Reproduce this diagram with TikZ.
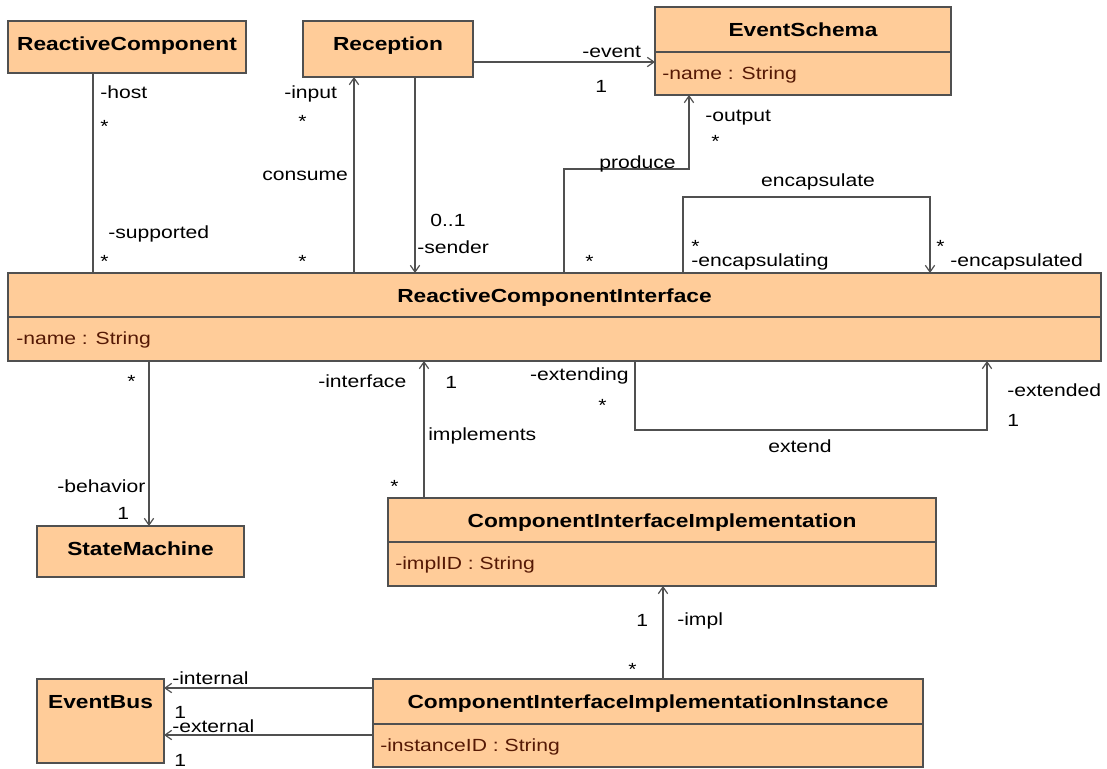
\documentclass[tikz,border=0pt]{standalone}
\usepackage{fontspec}
\setmainfont{Liberation Sans}[FakeStretch=1.2]
\usetikzlibrary{arrows.meta}
\definecolor{peach}{RGB}{255,204,153}
\definecolor{linec}{RGB}{80,80,80}
\definecolor{attrc}{RGB}{85,25,5}
\tikzset{
  box/.style={draw=linec, fill=peach, line width=1.1pt, anchor=north west, inner sep=0pt, outer sep=0pt},
  sepline/.style={draw=linec, line width=1.1pt},
  title/.style={anchor=base, inner sep=0pt, font=\fontsize{14.2pt}{16pt}\selectfont\bfseries},
  attr/.style={anchor=base west, inner sep=0pt, text=attrc, font=\fontsize{13.2pt}{15pt}\selectfont},
  lbl/.style={anchor=base west, inner sep=0pt, font=\fontsize{13.2pt}{15pt}\selectfont},
  clbl/.style={anchor=base, inner sep=0pt, font=\fontsize{13.2pt}{15pt}\selectfont},
  assoc/.style={draw=linec, line width=1.1pt},
  nav/.style={assoc, -{Straight Barb[length=5pt,width=7pt,line width=0.9pt]}},
}
% class box: name, left, top, width, height (in picture units)
\newcommand\umlbox[5]{\node[box, minimum width=#4*0.75pt, minimum height=#5*0.75pt] (#1) at (#2,#3) {};}
\begin{document}
\begin{tikzpicture}[x=0.75pt, y=-0.75pt]
\useasboundingbox (0,0) rectangle (1107,768);

% classes
\umlbox{rc}{8}{21}{238}{52}
\umlbox{rec}{303}{21}{170}{56}
\umlbox{es}{655}{7}{296}{88}
\umlbox{rci}{8}{273}{1093}{88}
\umlbox{sm}{37}{526}{207}{51}
\umlbox{cii}{388}{498}{548}{88}
\umlbox{ciii}{373}{679}{550}{88}
\umlbox{eb}{37}{679}{127}{84}

% compartment separators
\draw[sepline] (es.west |- 0,52) -- (es.east |- 0,52);
\draw[sepline] (rci.west |- 0,317) -- (rci.east |- 0,317);
\draw[sepline] (cii.west |- 0,542) -- (cii.east |- 0,542);
\draw[sepline] (ciii.west |- 0,724) -- (ciii.east |- 0,724);

% class names
\node[title] (rcT) at ([yshift=-21.75pt]rc.north) {ReactiveComponent};
\node[title] (recT) at ([yshift=-21.75pt]rec.north) {Reception};
\node[title] (esT) at ([yshift=-21.75pt]es.north) {EventSchema};
\node[title] (rciT) at ([yshift=-21.75pt]rci.north) {ReactiveComponentInterface};
\node[title] (smT) at ([yshift=-21.75pt]sm.north) {StateMachine};
\node[title] (ciiT) at ([yshift=-21.75pt]cii.north) {ComponentInterfaceImplementation};
\node[title] (ciiiT) at ([yshift=-21.75pt]ciii.north) {ComponentInterfaceImplementationInstance};
\node[title] (ebT) at ([yshift=-21.75pt]eb.north) {EventBus};

% attributes
\node[attr] (esA) at (662,79) {-name : String};
\node[attr] (rciA) at (16,344) {-name : String};
\node[attr] (ciiA) at (395,569) {-implID : String};
\node[attr] (ciiiA) at (380,751) {-instanceID : String};

% associations
\draw[assoc] (rc.south -| 93,0) -- (rci.north -| 93,0);
\draw[nav] (rci.north -| 354,0) -- (rec.south -| 354,0);
\draw[nav] (rec.south -| 415,0) -- (rci.north -| 415,0);
\draw[nav] (rec.east |- 0,62) -- (es.west |- 0,62);
\draw[nav] (rci.north -| 564,0) -- (564,169) -- (689,169) -- (es.south -| 689,0);
\draw[nav] (rci.north -| 683,0) -- (683,197) -- (930,197) -- (rci.north -| 930,0);
\draw[nav] (rci.south -| 149,0) -- (sm.north -| 149,0);
\draw[nav] (cii.north -| 424,0) -- (rci.south -| 424,0);
\draw[nav] (rci.south -| 635,0) -- (635,430) -- (987,430) -- (rci.south -| 987,0);
\draw[nav] (ciii.north -| 663,0) -- (cii.south -| 663,0);
\draw[nav] (ciii.west |- 0,688) -- (eb.east |- 0,688);
\draw[nav] (ciii.west |- 0,735) -- (eb.east |- 0,735);

% role names and multiplicities
\node[lbl] (l1) at (100,98) {-host};
\node[lbl] (l2) at (100,132) {*};
\node[lbl] (l3) at (108,238) {-supported};
\node[lbl] (l4) at (100,267) {*};
\node[lbl] (l5) at (284,98) {-input};
\node[lbl] (l6) at (298,127) {*};
\node[lbl] (l7) at (262,180) {consume};
\node[lbl] (l8) at (298,267) {*};
\node[lbl] (l9) at (430,226) {0..1};
\node[lbl] (l10) at (417,253) {-sender};
\node[lbl] (l11) at (582,57) {-event};
\node[lbl] (l12) at (595,92) {1};
\node[lbl] (l13) at (705,121) {-output};
\node[lbl] (l14) at (711,147) {*};
\node[lbl] (l15) at (599,168) {produce};
\node[clbl] (l16) at (818,186) {encapsulate};
\node[lbl] (l17) at (691,252) {*};
\node[lbl] (l18) at (691,266) {-encapsulating};
\node[lbl] (l19) at (936,252) {*};
\node[lbl] (l20) at (950,266) {-encapsulated};
\node[lbl] (l21) at (585,267) {*};
\node[lbl] (l22) at (127,387) {*};
\node[lbl] (l23) at (57,492) {-behavior};
\node[lbl] (l24) at (117,519) {1};
\node[lbl] (l25) at (318,387) {-interface};
\node[lbl] (l26) at (445,388) {1};
\node[lbl] (l27) at (428,440) {implements};
\node[lbl] (l28) at (390,492) {*};
\node[lbl, anchor=base east] (l29) at (629,380) {-extending};
\node[lbl] (l30) at (598,411) {*};
\node[lbl] (l31) at (1007,396) {-extended};
\node[lbl] (l32) at (1007,426) {1};
\node[clbl] (l33) at (800,452) {extend};
\node[lbl] (l34) at (636,626) {1};
\node[lbl] (l35) at (677,625) {-impl};
\node[lbl] (l36) at (628,675) {*};
\node[lbl] (l37) at (172,684) {-internal};
\node[lbl] (l38) at (174,718) {1};
\node[lbl] (l39) at (172,732) {-external};
\node[lbl] (l40) at (174,766) {1};
\end{tikzpicture}
\end{document}
